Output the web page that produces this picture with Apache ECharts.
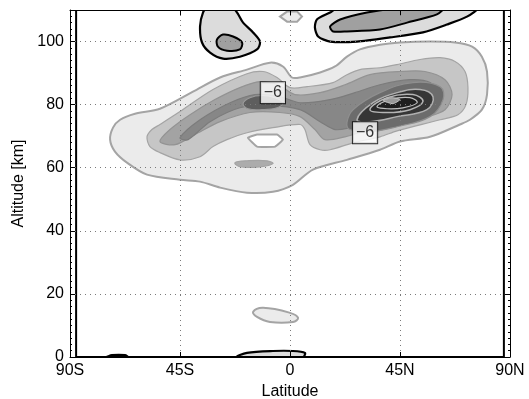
<!DOCTYPE html>
<html><head><meta charset="utf-8">
<script src="https://cdn.jsdelivr.net/npm/echarts@6/dist/echarts.min.js"></script>
<style>html,body{margin:0;padding:0;background:#fff}#c{width:529px;height:399px}</style>
</head><body><div id="c"></div>
<script>
// ---- data (latitude in degrees, altitude in km) ----
const xTickValues = [-90, -45, 0, 45, 90];
const xTickLabels = ['90S', '45S', '0', '45N', '90N'];
const yTickValues = [0, 20, 40, 60, 80, 100];

const contourL1 = [[-73.6,68.9],[-72.4,72.7],[-69.5,75.2],[-63.4,77.1],[-53.2,78.7],[-39.7,84.1],[-28.6,88.6],[-17.6,91.1],[-8.2,93.3],[-2.9,92.1],[0.8,88.6],[4.1,88.6],[12.3,90.2],[18.4,92.1],[23.3,95.2],[28.6,97.5],[36.8,99.0],[45,99.7],[57.3,100],[67.5,99.7],[74.5,98.4],[78.5,95.2],[80.6,90.5],[80.6,83.2],[78.5,78.4],[73.6,75.2],[69.5,73.7],[57.3,69.8],[45,68.3],[36.8,65.7],[23.3,62.5],[9.4,59.4],[1.2,54.6],[-7.0,52.4],[-17.6,52.1],[-28.6,53.7],[-36.8,55.6],[-45,56.2],[-58.5,57.8],[-66.7,61.6],[-71.6,65.1]];
const contourL2 = [[-58.5,69.8],[-56.5,72.1],[-53.2,73.7],[-45,77.8],[-31.5,84.8],[-17.6,89.8],[-11.0,90.5],[-5.3,88.6],[0,85.4],[7.0,85.7],[17.6,87.0],[23.3,89.5],[28.6,91.1],[36.8,91.7],[43.8,92.7],[53.2,94.3],[61.4,94.9],[67.5,93.7],[71.6,90.5],[72.8,85.4],[72.0,80.0],[68.7,76.8],[61.4,75.2],[43.8,71.7],[36.8,69.8],[25.8,67.9],[16.4,65.7],[12.3,65.7],[8.2,67.3],[6.1,72.1],[4.1,73.7],[-7.0,72.7],[-17.6,71.1],[-25.8,68.9],[-31.5,66.7],[-36.8,63.5],[-45,62.5],[-53.2,64.8],[-57.3,66.7]];
const contourL3 = [[-53.2,68.3],[-49.1,72.1],[-40.9,76.8],[-30.7,81.6],[-20.5,85.4],[-12.3,87.3],[-4.9,86.3],[2.0,83.2],[12.3,83.8],[22.5,86.3],[32.7,89.5],[45,90.5],[55.2,90.5],[63.4,87.9],[66.3,83.2],[63.4,78.4],[55.2,75.9],[45,74.0],[32.7,72.1],[22.5,69.8],[14.3,68.9],[10.2,72.1],[4.1,76.2],[-4.1,77.5],[-16.4,77.5],[-28.6,74.6],[-38.9,70.5],[-47.0,67.3]];
const contourL4 = [[-45,69.5],[-36.8,75.2],[-24.5,80.6],[-14.3,83.2],[-4.1,82.5],[4.1,80.6],[16.4,81.6],[26.6,83.8],[36.8,86.3],[49.1,87.9],[57.3,87.0],[60.5,83.2],[57.3,79.0],[47.0,76.2],[34.8,74.6],[24.5,72.7],[18.4,72.1],[12.3,74.6],[4.1,78.4],[-8.2,79.7],[-20.5,79.0],[-32.7,74.6],[-41.7,68.9]];
const contourL5a = [[-19.2,80.3],[-16.4,82.2],[-11.5,82.9],[-6.1,82.2],[-2.9,80.6],[-5.3,79.0],[-11.5,78.4],[-17.2,78.7]];
const contourL5b = [[23.3,74.3],[25.8,78.4],[36.8,83.8],[50.3,87.0],[61.4,85.7],[62.6,81.6],[57.3,76.2],[43.8,73.0],[32.7,71.4],[24.5,72.1]];
const contourL6 = [[27.4,75.2],[34.0,80.6],[43.8,83.8],[53.2,84.8],[58.5,82.5],[56.0,78.4],[43.8,76.2],[32.7,74.6]];
const contourL7 = [[32.7,78.4],[39.7,82.2],[50.3,83.2],[54.4,81.0],[49.1,78.4],[39.7,77.5]];
const contourL8 = [[35.6,79.4],[40.9,81.6],[49.1,82.2],[52.0,80.6],[46.2,79.0],[39.7,78.7]];
const contourCore = [[38.1,81.3],[41.7,82.2],[45,81.6],[42.1,80.3]];
const contourHole = [[-17.2,69.5],[-13.5,70.5],[-5.3,70.5],[-2.9,68.9],[-6.1,66.7],[-13.5,66.7]];
const contourStreak = [[-22.5,61.6],[-17.6,62.2],[-9.4,62.2],[-7.0,61.3],[-12.3,60.3],[-20.5,60.3]];
const contourLow = [[-15.1,14.3],[-11.0,15.6],[0,14.0],[3.3,12.4],[1.2,11.1],[-8.2,11.1],[-13.5,12.7]];
const posSurface = [[-21.7,0],[-17.6,1.3],[-7.0,1.9],[1.2,1.9],[6.1,1.3],[5.3,0]];
const posSurfaceSouth = [[-74.9,0],[-72.8,0.6],[-67.5,0.6],[-66.3,0]];
const posBlobA = [[-35.6,109.2],[-34.0,110.5],[-23.3,110.5],[-19.2,106.0],[-15.1,102.9],[-12.3,100],[-13.5,97.5],[-20.5,95.2],[-27.4,94.6],[-32.7,96.5],[-36.0,99.7],[-36.8,104.8]];
const posBlobAInner = [[-29.9,100.6],[-27.4,102.2],[-23.3,101.6],[-19.6,99.7],[-20.5,97.5],[-25.8,97.1],[-29.5,98.4]];
const posHex = [[-4.1,107.9],[-1.2,109.5],[2.9,109.5],[4.9,107.9],[2.9,106.3],[-1.2,106.3]];
const posBlobB = [[11.0,107.0],[16.4,109.2],[19.2,110.5],[76.5,110.5],[72.4,107.9],[64.2,105.4],[54.4,102.9],[40.9,101.3],[27.4,100],[16.4,100],[11.5,101.6],[10.2,104.4]];
const posBlobBInner = [[16.4,104.8],[20.5,107.0],[31.5,109.2],[43.8,110.5],[62.6,110.5],[60.1,108.6],[47.9,106.0],[36.8,103.8],[23.3,103.2],[17.6,103.2]];
const dataFrame = [[-87.5,0],[87.5,0],[87.5,110],[-87.5,110]];
const labelPoints = [[-7.0,83.8],[30.7,71.1]];
const labelTexts = ['\u22126', '\u22126'];

// ---- styling of layers ----
const G = '#a4a4a4';
const layers = [
  {pts: contourL1, fill:'#ebebeb', stroke:G, lw:2, sm:0.3},
  {pts: contourL2, fill:'#c6c6c6', stroke:G, lw:1.2, sm:0.3},
  {pts: contourL3, fill:'#a3a3a3', stroke:'#939393', lw:1.2, sm:0.3},
  {pts: contourL4, fill:'#878787', stroke:'#7c7c7c', lw:1.2, sm:0.3},
  {pts: contourL5a, fill:'#5e5e5e', stroke:'#9a9a9a', lw:1.2, sm:0.4},
  {pts: contourL5b, fill:'#6c6c6c', stroke:'#8f8f8f', lw:1.2, sm:0.4},
  {pts: contourL6, fill:'#363636', stroke:'#b0b0b0', lw:1.5, sm:0.4},
  {pts: contourL7, fill:'#2b2b2b', stroke:'#b5b5b5', lw:1.5, sm:0.4},
  {pts: contourL8, fill:'#1f1f1f', stroke:'#c0c0c0', lw:1.2, sm:0.4},
  {pts: contourCore, fill:'#9a9a9a', stroke:'#c8c8c8', lw:1, sm:0.2},
  {pts: contourHole, fill:'#ffffff', stroke:G, lw:2, sm:0.1},
  {pts: contourStreak, fill:'#acacac', stroke:G, lw:1.2, sm:0.4},
  {pts: contourLow, fill:'#ebebeb', stroke:G, lw:2, sm:0.4},
  {pts: posSurface, fill:'#dcdcdc', stroke:'#000', lw:2.2, sm:0.3},
  {pts: posSurfaceSouth, fill:'#000', stroke:'#000', lw:2, sm:0.3},
  {pts: posBlobA, fill:'#dcdcdc', stroke:'#000', lw:2.2, sm:0.3},
  {pts: posBlobAInner, fill:'#a0a0a0', stroke:'#000', lw:2, sm:0.3},
  {pts: posHex, fill:'#ececec', stroke:G, lw:2, sm:0},
  {pts: posBlobB, fill:'#dcdcdc', stroke:'#000', lw:2.2, sm:0.25},
  {pts: posBlobBInner, fill:'#a0a0a0', stroke:'#000', lw:2, sm:0.25},
  {pts: dataFrame, fill:'none', stroke:'#000', lw:2, sm:0}
];

const chart = echarts.init(document.getElementById('c'), null, {renderer:'canvas'});
const font = 'Liberation Sans, Arial, Helvetica, sans-serif';
const axisCommon = {
  axisLine:{show:true, onZero:false, lineStyle:{color:'#000', width:1}},
  axisTick:{show:true, inside:true, length:5, lineStyle:{color:'#000'}},
};
chart.setOption({
  animation:false,
  grid:{left:70, right:19, top:10, bottom:42, containLabel:false, outerBoundsMode:'none'},
  xAxis:[
    Object.assign({type:'value', min:-90, max:90, interval:45, position:'bottom', z:10,
      name:'Latitude', nameLocation:'middle', nameGap:25,
      nameTextStyle:{fontFamily:font, fontSize:16, color:'#000'},
      axisLabel:{fontFamily:font, fontSize:16, color:'#000', margin:6,
        formatter:v => xTickLabels[xTickValues.indexOf(v)] || ''},
      splitLine:{show:true, lineStyle:{color:'#7a7a7a', type:[1,4], width:1}}
    }, axisCommon),
    Object.assign({type:'value', min:-90, max:90, interval:45, position:'top', z:10,
      axisLabel:{show:false}, splitLine:{show:false}}, axisCommon)
  ],
  yAxis:[
    Object.assign({type:'value', min:0, max:110, interval:20, position:'left', z:10,
      name:'Altitude [km]', nameLocation:'middle', nameGap:37,
      nameTextStyle:{fontFamily:font, fontSize:16, color:'#000'},
      axisLabel:{fontFamily:font, fontSize:16, color:'#000', margin:6, showMaxLabel:false,
        formatter:v => yTickValues.indexOf(v) >= 0 ? String(v) : ''},
      minorTick:{show:true, splitNumber:10, length:2, lineStyle:{color:'#000'}},
      splitLine:{show:true, lineStyle:{color:'#7a7a7a', type:[1,4], width:1}}
    }, axisCommon),
    Object.assign({type:'value', min:0, max:110, interval:20, position:'right', z:10,
      axisLabel:{show:false}, splitLine:{show:false},
      minorTick:{show:true, splitNumber:10, length:2, lineStyle:{color:'#000'}}}, axisCommon)
  ],
  series:[
    {
      type:'custom', coordinateSystem:'cartesian2d', clip:true, z:2,
      data: layers.map((l, i) => [i]),
      renderItem:(params, api) => {
        const L = layers[params.dataIndex];
        return {type:'polygon',
          shape:{points: L.pts.map(p => api.coord(p)), smooth: L.sm},
          style:{fill: L.fill, stroke: L.stroke, lineWidth: L.lw}};
      }
    },
    {
      type:'scatter', z:20, symbolSize:0,
      data: labelPoints.map((p, i) => ({value:p, name:labelTexts[i]})),
      label:{show:true, position:'inside', formatter: p => p.name,
        fontFamily:font, fontSize:16, color:'#000',
        backgroundColor:'#ffffff', borderColor:'#000', borderWidth:1, padding:[3,3,2,3]}
    }
  ]
});
</script></body></html>
